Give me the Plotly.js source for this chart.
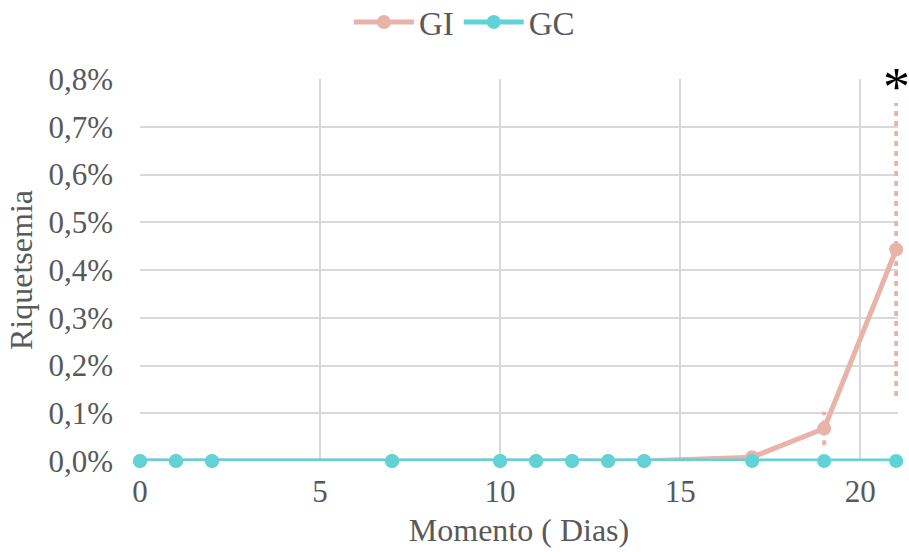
<!DOCTYPE html>
<html>
<head>
<meta charset="utf-8">
<script src="https://cdn.plot.ly/plotly-3.0.1.min.js"></script>
<style>html,body{margin:0;padding:0;background:#fff;}#chart{width:909px;height:552px;}</style>
</head>
<body>
<div id="chart"></div>
<script>
// Data (values in %)
const days = [0, 1, 2, 7, 10, 11, 12, 13, 14, 17, 19, 21];
const giValues = [0, 0, 0, 0, 0, 0, 0, 0, 0, 0.008, 0.068, 0.443];
const gcValues = [0, 0, 0, 0, 0, 0, 0, 0, 0, 0, 0, 0];
const giErrDays = [19, 21];
const giErrCenter = [0.068, 0.443];
const giErrSize = [0.035, 0.307];
const yTickVals = [0, 0.1, 0.2, 0.3, 0.4, 0.5, 0.6, 0.7, 0.8];
const yTickText = ['0,0%', '0,1%', '0,2%', '0,3%', '0,4%', '0,5%', '0,6%', '0,7%', '0,8%'];
const xTickVals = [0, 5, 10, 15, 20];

const pink = '#E8B3A9';
const teal = '#60D3D7';
const textColor = '#595959';
const fontFam = 'Liberation Serif, Times New Roman, serif';

const traces = [];
// error bars (dotted)
giErrDays.forEach((d, i) => {
  traces.push({
    x: [d, d],
    y: [giErrCenter[i] - giErrSize[i], giErrCenter[i] + giErrSize[i]],
    mode: 'lines',
    line: {color: pink, width: 4, dash: '5px,5px'},
    showlegend: false,
    hoverinfo: 'skip',
    cliponaxis: false
  });
});
traces.push({
  x: days, y: giValues, name: 'GI', mode: 'lines+markers',
  line: {color: pink, width: 5},
  marker: {color: pink, size: 14},
  cliponaxis: false
});
traces.push({
  x: days, y: gcValues, name: 'GC', mode: 'lines+markers',
  line: {color: teal, width: 5},
  marker: {color: teal, size: 14},
  cliponaxis: false
});

const layout = {
  width: 909, height: 552,
  margin: {l: 140, r: 11, t: 79, b: 91, autoexpand: false},
  paper_bgcolor: '#fff', plot_bgcolor: '#fff',
  font: {family: fontFam, size: 31, color: textColor},
  showlegend: true,
  legend: {
    orientation: 'h', x: 0.428, xanchor: 'center',
    yref: 'paper', y: 1.149, yanchor: 'middle',
    font: {family: fontFam, size: 33, color: textColor},
    itemwidth: 60, traceorder: 'normal'
  },
  xaxis: {
    range: [0, 21.05],
    tickvals: xTickVals,
    showgrid: true, gridcolor: '#D9D9D9', gridwidth: 2,
    zeroline: false, showline: false,
    ticks: '', ticklabelstandoff: 9,
    tickfont: {family: fontFam, size: 31, color: textColor},
    title: {text: 'Momento ( Dias)', font: {family: fontFam, size: 32, color: textColor}, standoff: 10}
  },
  yaxis: {
    range: [0, 0.8],
    tickvals: yTickVals,
    ticktext: yTickText,
    showgrid: true, gridcolor: '#D9D9D9', gridwidth: 2,
    zeroline: false, showline: false,
    ticks: '', ticklabelstandoff: 26,
    tickfont: {family: fontFam, size: 31, color: textColor},
    title: {text: 'Riquetsemia', font: {family: fontFam, size: 32, color: textColor}, standoff: 6}
  },
  annotations: [{
    x: 21, y: 0.8, xref: 'x', yref: 'y',
    text: '*', showarrow: false,
    font: {family: fontFam, size: 54, color: '#000'},
    xanchor: 'center', yanchor: 'middle', yshift: -8
  }]
};

Plotly.newPlot('chart', traces, layout, {staticPlot: true, displayModeBar: false});
</script>
</body>
</html>
